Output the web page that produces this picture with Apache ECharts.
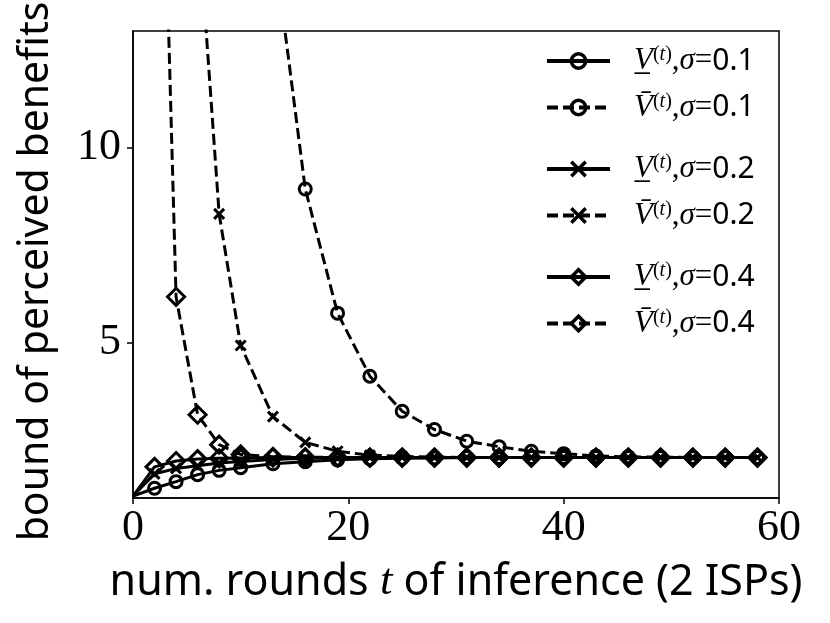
<!DOCTYPE html>
<html>
<head>
<meta charset="utf-8">
<script src="https://cdn.jsdelivr.net/npm/echarts@6/dist/echarts.min.js"></script>
<style>html,body{margin:0;padding:0;background:#fff;}#c{width:830px;height:623px;}</style>
</head>
<body>
<div id="c"></div>
<script>
// ---- data ----
const rounds = [0, 2, 4, 6, 8, 10, 13, 16, 19, 22, 25, 28, 31, 34, 37, 40, 43, 46, 49, 52, 55, 58];
const lower01 = [1.05, 1.25, 1.42, 1.60, 1.71, 1.78, 1.88, 1.93, 1.98, 2.01, 2.02, 2.03, 2.04, 2.04, 2.04, 2.04, 2.04, 2.04, 2.04, 2.04, 2.04, 2.04];
const upper01 = [null, null, null, null, null, null, 15.4, 8.94, 5.75, 4.13, 3.23, 2.76, 2.46, 2.32, 2.20, 2.14, 2.08, 2.06, 2.05, 2.04, 2.04, 2.04];
const lower02 = [1.05, 1.62, 1.76, 1.83, 1.90, 1.94, 1.99, 2.02, 2.03, 2.04, 2.04, 2.04, 2.04, 2.04, 2.04, 2.04, 2.04, 2.04, 2.04, 2.04, 2.04, 2.04];
const upper02 = [null, null, null, 16.1, 8.30, 4.92, 3.09, 2.43, 2.20, 2.10, 2.07, 2.05, 2.04, 2.04, 2.04, 2.04, 2.04, 2.04, 2.04, 2.04, 2.04, 2.04];
const lower04 = [1.05, 1.80, 1.95, 2.00, 2.02, 2.03, 2.04, 2.04, 2.04, 2.04, 2.04, 2.04, 2.04, 2.04, 2.04, 2.04, 2.04, 2.04, 2.04, 2.04, 2.04, 2.04];
const upper04 = [null, 26.0, 6.17, 3.14, 2.37, 2.12, 2.06, 2.05, 2.04, 2.04, 2.04, 2.04, 2.04, 2.04, 2.04, 2.04, 2.04, 2.04, 2.04, 2.04, 2.04, 2.04];
const xTicks = [0, 20, 40, 60];
const yTicks = [5, 10];
const names = ['lo01', 'up01', 'lo02', 'up02', 'lo04', 'up04'];
const sigmas = ['0.1', '0.1', '0.2', '0.2', '0.4', '0.4'];

// ---- chart ----
const chart = echarts.init(document.getElementById('c'), null, {renderer: 'canvas'});
const SERIF = 'Liberation Serif';
const SANS = 'Noto Sans';
const xSym = 'path://M0,0L10,10M10,0L0,10';

function mk(name, vals, dashed, symbol, size) {
  const data = rounds.map((t, i) => {
    if (vals[i] === null) return [t, null];
    if (t === 0) return {value: [t, vals[i]], symbolSize: 0};
    return [t, vals[i]];
  });
  return {
    name: name, type: 'line', data: data, symbol: symbol, symbolSize: size,
    showAllSymbol: true, connectNulls: false, clip: true,
    lineStyle: {color: '#000', width: 3, type: dashed ? [11, 5] : 'solid'},
    itemStyle: {color: 'rgba(0,0,0,0)', borderColor: '#000', borderWidth: 3},
    emphasis: {disabled: true}, z: 2
  };
}

const series = [
  mk('lo01', lower01, false, 'circle', 12),
  mk('up01', upper01, true, 'circle', 12),
  mk('lo02', lower02, false, xSym, 10),
  mk('up02', upper02, true, xSym, 10),
  mk('lo04', lower04, false, 'diamond', 17),
  mk('up04', upper04, true, 'diamond', 17)
];

const rich = {
  v: {fontFamily: SERIF, fontStyle: 'italic', fontSize: 31, color: '#000', lineHeight: 32},
  sup: {fontFamily: SERIF, fontSize: 20, color: '#000', verticalAlign: 'top', lineHeight: 20},
  supt: {fontFamily: SERIF, fontStyle: 'italic', fontSize: 20, color: '#000', verticalAlign: 'top', lineHeight: 20},
  c: {fontFamily: SERIF, fontSize: 31, color: '#000', lineHeight: 32},
  sig: {fontFamily: SERIF, fontStyle: 'italic', fontSize: 31, color: '#000', lineHeight: 32},
  eq: {fontFamily: SERIF, fontSize: 31, color: '#000', lineHeight: 32},
  num: {fontFamily: SANS, fontSize: 30, color: '#000', lineHeight: 32}
};

function fmt(n) {
  const i = names.indexOf(n);
  const v = (i % 2 === 0) ? 'V\u0332' : 'V\u0304';
  return '{v|' + v + '}{sup|(}{supt|t}{sup|)}{c|,}{sig|σ}{eq|=}{num|' + sigmas[i] + '}';
}

function leg(items, top) {
  return {
    data: items, orient: 'vertical', left: 545, top: top, padding: 0,
    itemWidth: 63, itemHeight: 18, itemGap: 15, selectedMode: false,
    formatter: fmt,
    lineStyle: {width: 4, color: '#000'},
    itemStyle: {borderWidth: 3.5, borderColor: '#000'},
    textStyle: {rich: rich, padding: [0, 0, 0, 19]}
  };
}

chart.setOption({
  animation: false,
  backgroundColor: '#fff',
  grid: {left: 133, right: 51, top: 31, bottom: 125, show: true, borderColor: '#000', borderWidth: 1.5,
         backgroundColor: 'transparent', outerBoundsMode: 'none', containLabel: false},
  legend: [leg(['lo01', 'up01'], 45), leg(['lo02', 'up02'], 153), leg(['lo04', 'up04'], 261)],
  xAxis: {
    type: 'value', min: 0, max: 60, interval: 20,
    name: '{a|num. rounds }{t|t}{a| of inference (2 ISPs)}',
    nameLocation: 'middle', nameGap: 62,
    nameTextStyle: {rich: {
      a: {fontFamily: SANS, fontSize: 43, color: '#000'},
      t: {fontFamily: SERIF, fontStyle: 'italic', fontSize: 45, color: '#000'}
    }},
    axisLine: {show: true, lineStyle: {color: '#000', width: 1.5}},
    axisTick: {show: true, length: 6, lineStyle: {color: '#000', width: 1.5}, customValues: xTicks},
    axisLabel: {fontFamily: SERIF, fontSize: 44, color: '#000', margin: 8, customValues: xTicks},
    splitLine: {show: false}
  },
  yAxis: {
    type: 'value', min: 1, max: 13,
    name: 'bound of perceived benefits',
    nameLocation: 'middle', nameGap: 76,
    nameTextStyle: {fontFamily: SANS, fontSize: 41, color: '#000', padding: [0, 14, 0, 0]},
    axisLine: {show: true, lineStyle: {color: '#000', width: 1.5}},
    axisTick: {show: true, length: 6, lineStyle: {color: '#000', width: 1.5}, customValues: yTicks},
    axisLabel: {fontFamily: SERIF, fontSize: 44, color: '#000', margin: 12, customValues: yTicks},
    splitLine: {show: false}
  },
  series: series
});
</script>
</body>
</html>
